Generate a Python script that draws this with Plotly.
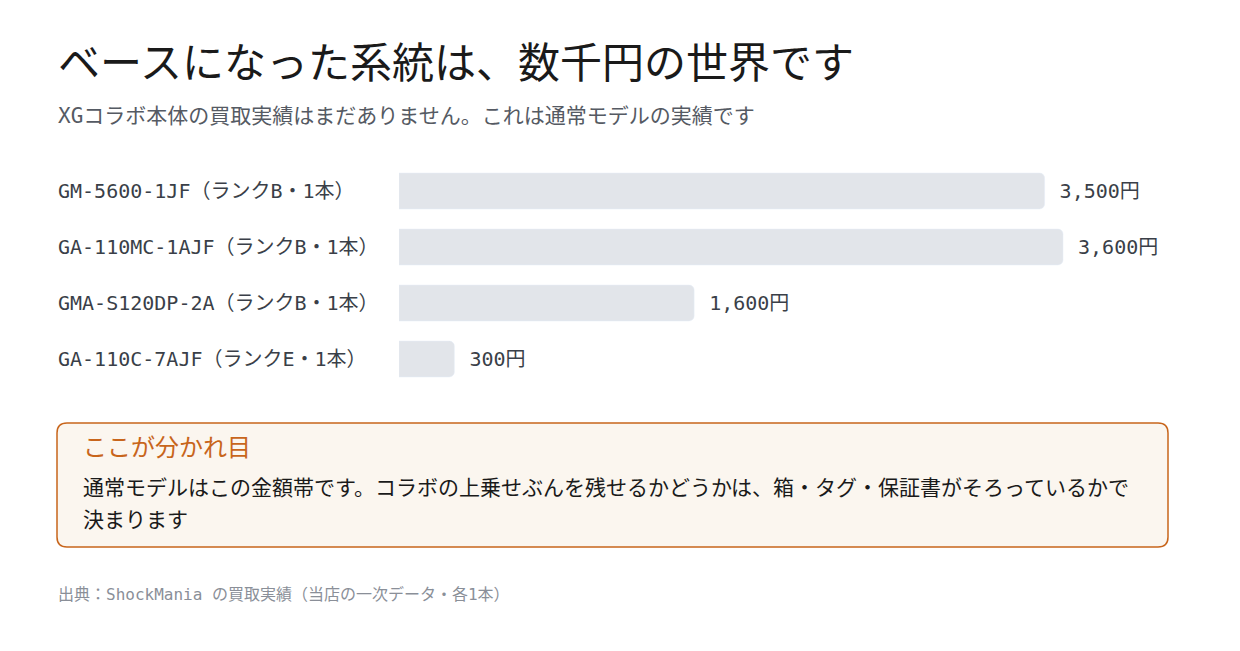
import plotly.graph_objects as go

labels = ["GM-5600-1JF（ランクB・1本）", "GA-110MC-1AJF（ランクB・1本）", "GMA-S120DP-2A（ランクB・1本）", "GA-110C-7AJF（ランクE・1本）"]
values = [3500, 3600, 1600, 300]
value_text = [" 3,500円", " 3,600円", " 1,600円", " 300円"]

OFF = 8  # page body margin
W, H = 1240, 651
L, R_, T, B = 407, 1240, 171, 395
PW, PH = R_ - L, B - T
px_per_unit = (1071 - 407) / 3600
XMAX = PW / px_per_unit
FONT = "DejaVu Sans Mono, Noto Sans CJK JP"

def px(x): return (x - L) / PW
def py(y): return (B - y) / PH

fig = go.Figure(go.Bar(
    x=values, y=labels, orientation="h", width=0.64,
    marker=dict(color="#e2e5ea", cornerradius=5),
    text=value_text, textposition="outside", cliponaxis=False,
    textfont=dict(size=20, color="#3a3f48", family=FONT), hoverinfo="skip"))

ann = []
for lab in labels:
    ann.append(dict(xref="paper", yref="y", x=px(64), y=lab, text=lab, showarrow=False,
                    xanchor="left", font=dict(size=20, color="#3a3f48", family=FONT)))
ann += [
    dict(xref="paper", yref="paper", x=px(64), y=py(72), text="ベースになった系統は、数千円の世界です",
         showarrow=False, xanchor="left", yanchor="middle", font=dict(size=42, color="#1a1a1a", family=FONT)),
    dict(xref="paper", yref="paper", x=px(64), y=py(124), text="XGコラボ本体の買取実績はまだありません。これは通常モデルの実績です",
         showarrow=False, xanchor="left", yanchor="middle", font=dict(size=21, color="#555a63", family=FONT)),
    dict(xref="paper", yref="paper", x=px(89), y=py(456), text="ここが分かれ目",
         showarrow=False, xanchor="left", yanchor="middle", font=dict(size=24, color="#c8651b", family=FONT)),
    dict(xref="paper", yref="paper", x=px(89), y=py(496), text="通常モデルはこの金額帯です。コラボの上乗せぶんを残せるかどうかは、箱・タグ・保証書がそろっているかで",
         showarrow=False, xanchor="left", yanchor="middle", font=dict(size=21, color="#1a1a1a", family=FONT)),
    dict(xref="paper", yref="paper", x=px(89), y=py(528), text="決まります",
         showarrow=False, xanchor="left", yanchor="middle", font=dict(size=21, color="#1a1a1a", family=FONT)),
    dict(xref="paper", yref="paper", x=px(64), y=py(602), text="出典：ShockMania の買取実績（当店の一次データ・各1本）",
         showarrow=False, xanchor="left", yanchor="middle", font=dict(size=16, color="#8a8f98", family=FONT)),
]

def rrect(x0, y0, x1, y1, r):
    s = f"M {px(x0+r)},{py(y0)} L {px(x1-r)},{py(y0)} Q {px(x1)},{py(y0)} {px(x1)},{py(y0+r)} "
    s += f"L {px(x1)},{py(y1-r)} Q {px(x1)},{py(y1)} {px(x1-r)},{py(y1)} "
    s += f"L {px(x0+r)},{py(y1)} Q {px(x0)},{py(y1)} {px(x0)},{py(y1-r)} "
    s += f"L {px(x0)},{py(y0+r)} Q {px(x0)},{py(y0)} {px(x0+r)},{py(y0)} Z"
    return s

shapes = [
    dict(type="rect", xref="paper", yref="paper", x0=px(0), x1=px(1260), y0=py(-10), y1=py(6),
         fillcolor="#e8833a", line=dict(width=0)),
    dict(type="path", xref="paper", yref="paper", path=rrect(65, 431, 1176, 555, 10),
         fillcolor="#fbf6ef", line=dict(color="#c8651b", width=1.5)),
]

fig.update_layout(
    width=W, height=H,
    margin=dict(l=L - OFF, r=W - R_ + OFF, t=T - OFF, b=H - B + OFF),
    paper_bgcolor="white", plot_bgcolor="white", showlegend=False,
    xaxis=dict(range=[0, XMAX], visible=False, fixedrange=True),
    yaxis=dict(autorange="reversed", visible=False, fixedrange=True),
    annotations=ann, shapes=shapes, font=dict(family=FONT),
)
fig.write_html("out.html", config={"displayModeBar": False},
               include_plotlyjs=True, full_html=True,
               default_width="1240px", default_height="651px")
with open("out.html") as f:
    html = f.read()
html = html.replace("<head>", "<head><style>body{margin:0;}</style>", 1)
with open("out.html", "w") as f:
    f.write(html)
